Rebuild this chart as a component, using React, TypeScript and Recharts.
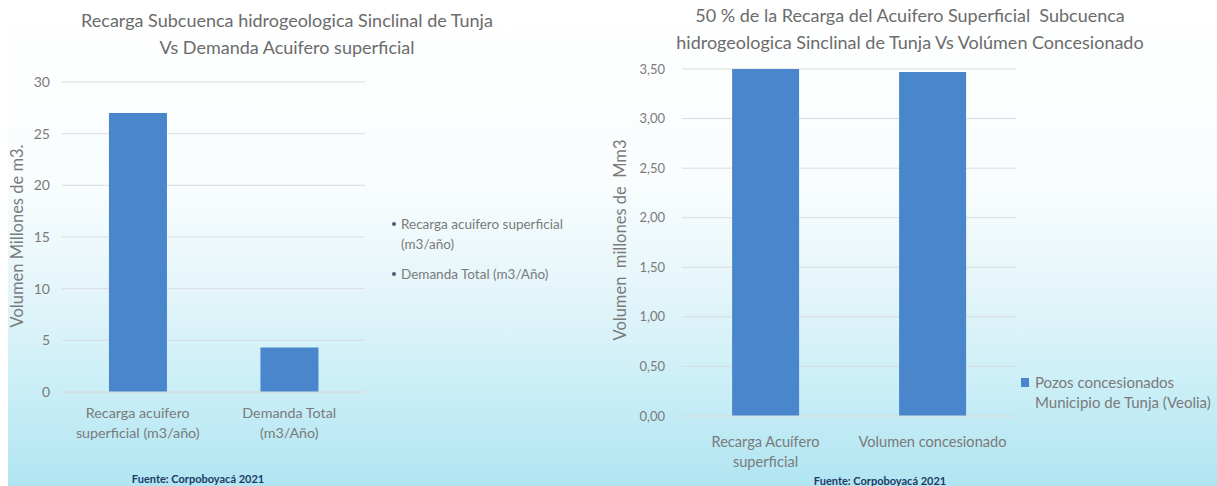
import React from 'react';
import { BarChart, Bar, CartesianGrid, XAxis, YAxis, Legend, Label } from 'recharts';

// Recarga vs demanda (millones de m3)
const recargaCategorias = ['Recarga acuifero\nsuperficial (m3/año)', 'Demanda Total\n(m3/Año)'];
const recargaValores = [27.0, 4.3];
const recargaTicks = [0, 5, 10, 15, 20, 25, 30];
const recargaLeyenda = ['Recarga acuifero superficial (m3/año)', 'Demanda Total (m3/Año)'];

// 50 % de la recarga vs volumen concesionado (Mm3)
const concesionCategorias = ['Recarga Acuífero\nsuperficial', 'Volumen concesionado'];
const concesionValores = [3.5, 3.47];
const concesionTicks = [0, 0.5, 1, 1.5, 2, 2.5, 3, 3.5];
const concesionSerie = 'Pozos concesionados\nMunicipio de Tunja (Veolia)';

const FONT = 'Lato, "Open Sans", sans-serif';
const BLUE = '#4a86cc';
const GRID = '#d9dcdf';
const TEXT = '#7a7a7a';

const recargaData = recargaCategorias.map((c, i) => ({ categoria: c, valor: recargaValores[i] }));
const concesionData = concesionCategorias.map((c, i) => ({ categoria: c, valor: concesionValores[i] }));

function MultiLineTick({ x, y, payload, fontSize, dy }: any) {
  const lines = String(payload.value).split('\n');
  return (
    <text x={x} y={y + dy} textAnchor="middle" fill={TEXT} fontSize={fontSize} fontFamily={FONT}>
      {lines.map((l, i) => (
        <tspan key={i} x={x} dy={i === 0 ? 0 : 20}>
          {l}
        </tspan>
      ))}
    </text>
  );
}

function VerticalTitle({ x, y, text, fontSize }: { x: number; y: number; text: string; fontSize: number }) {
  return (
    <text
      x={x}
      y={y}
      transform={`rotate(-90 ${x} ${y})`}
      textAnchor="middle"
      dominantBaseline="central"
      fill={TEXT}
      fontSize={fontSize}
      fontFamily={FONT}
      style={{ whiteSpace: 'pre' }}
    >
      {text}
    </text>
  );
}

const titleStyle: React.CSSProperties = {
  position: 'absolute',
  textAlign: 'center',
  color: '#6b6b6b',
  fontFamily: FONT,
  fontSize: 18,
  lineHeight: '27px',
  whiteSpace: 'nowrap',
};

const fuenteStyle: React.CSSProperties = {
  position: 'absolute',
  color: '#1f3a68',
  fontFamily: FONT,
  fontSize: 11,
  fontWeight: 700,
  whiteSpace: 'nowrap',
  transform: 'translateX(-50%)',
};

function RecargaLegend() {
  return (
    <div style={{ fontFamily: FONT, fontSize: 13.5, color: TEXT, width: 200 }}>
      {recargaLeyenda.map((t) => (
        <div key={t} style={{ display: 'flex', alignItems: 'flex-start', marginBottom: 10, lineHeight: '20px' }}>
          <span
            style={{
              width: 4,
              height: 4,
              borderRadius: 2,
              background: '#4a5a78',
              marginTop: 8,
              marginRight: 5,
              flex: 'none',
            }}
          />
          <span>{t}</span>
        </div>
      ))}
    </div>
  );
}

function ConcesionLegend() {
  return (
    <div style={{ fontFamily: FONT, fontSize: 15, color: TEXT, display: 'flex', alignItems: 'flex-start' }}>
      <span style={{ width: 8, height: 9, background: BLUE, marginTop: 6, marginRight: 6, flex: 'none' }} />
      <span style={{ whiteSpace: 'pre', lineHeight: '20px' }}>{concesionSerie}</span>
    </div>
  );
}

export default function App() {
  return (
    <div style={{ position: 'relative', width: 1217, height: 486, overflow: 'hidden', background: '#ffffff' }}>
      <style>{'body{margin:0}'}</style>
      <div
        style={{
          position: 'absolute',
          left: 8,
          top: 0,
          right: 0,
          bottom: 0,
          background:
            'linear-gradient(180deg, #ffffff 0%, #f9fdfe 38%, #e6f6fa 58%, #cdeff7 78%, #b0e5f2 100%)',
        }}
      />

      <div style={{ ...titleStyle, left: 0, width: 574, top: 7 }}>
        Recarga Subcuenca hidrogeologica Sinclinal de Tunja
        <br />
        Vs Demanda Acuifero superficial
      </div>
      <div style={{ ...titleStyle, left: 610, width: 600, top: 2 }}>
        50 % de la Recarga del Acuifero Superficial&nbsp; Subcuenca
        <br />
        hidrogeologica Sinclinal de Tunja Vs Volúmen Concesionado
      </div>

      <div style={{ position: 'absolute', left: 0, top: 0 }}>
        <BarChart
          width={600}
          height={486}
          data={recargaData}
          margin={{ top: 82, right: 235, bottom: 34, left: 12 }}
          barCategoryGap="31%"
        >
          <CartesianGrid stroke={GRID} vertical={false} />
          <XAxis
            dataKey="categoria"
            height={60}
            axisLine={{ stroke: GRID }}
            tickLine={false}
            interval={0}
            tick={<MultiLineTick fontSize={14.3} dy={18} />}
          />
          <YAxis
            width={50}
            domain={[0, 30]}
            ticks={recargaTicks}
            axisLine={false}
            tickLine={false}
            tickMargin={6}
            tick={{ fill: TEXT, fontSize: 14, fontFamily: FONT }}
          >
            <Label
              content={() => <VerticalTitle x={17} y={236} text="Volumen Millones de m3." fontSize={16.5} />}
            />
          </YAxis>
          <Legend
            layout="vertical"
            align="center"
            verticalAlign="middle"
            content={() => <RecargaLegend />}
            wrapperStyle={{ left: 392, top: 214, width: 205 }}
          />
          <Bar dataKey="valor" fill={BLUE} isAnimationActive={false} />
        </BarChart>
      </div>

      <div style={{ position: 'absolute', left: 600, top: 0 }}>
        <BarChart
          width={617}
          height={486}
          data={concesionData}
          margin={{ top: 69, right: 201, bottom: 10, left: 27 }}
          barCategoryGap="30%"
        >
          <CartesianGrid stroke={GRID} vertical={false} />
          <XAxis
            dataKey="categoria"
            height={60}
            axisLine={{ stroke: GRID }}
            tickLine={false}
            interval={0}
            tick={<MultiLineTick fontSize={14.6} dy={23} />}
          />
          <YAxis
            width={55}
            domain={[0, 3.5]}
            ticks={concesionTicks}
            axisLine={false}
            tickLine={false}
            tickMargin={11}
            tickFormatter={(v: number) => v.toFixed(2).replace('.', ',')}
            tick={{ fill: TEXT, fontSize: 13, fontFamily: FONT }}
          >
            <Label
              content={() => <VerticalTitle x={20} y={240} text="Volumen  millones de  Mm3" fontSize={16.5} />}
            />
          </YAxis>
          <Legend
            layout="vertical"
            align="center"
            verticalAlign="middle"
            content={() => <ConcesionLegend />}
            wrapperStyle={{ left: 421, top: 372, width: 200 }}
          />
          <Bar dataKey="valor" name={concesionSerie} fill={BLUE} isAnimationActive={false} />
        </BarChart>
      </div>

      <div style={{ ...fuenteStyle, left: 198, top: 472 }}>Fuente: Corpoboyacá 2021</div>
      <div style={{ ...fuenteStyle, left: 880, top: 474 }}>Fuente: Corpoboyacá 2021</div>
    </div>
  );
}
